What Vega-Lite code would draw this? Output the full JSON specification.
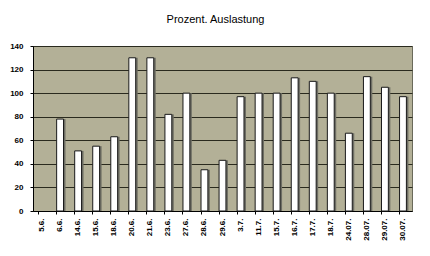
{
  "$schema": "https://vega.github.io/schema/vega-lite/v6.json",
  "width": 379,
  "height": 165,
  "autosize": {"type": "none"},
  "padding": {"left": 33, "top": 46, "right": 18, "bottom": 45},
  "background": "white",
  "title": {
    "text": "Prozent. Auslastung",
    "font": "Liberation Sans",
    "fontSize": 11,
    "fontWeight": "normal",
    "color": "#000000",
    "offset": 17,
    "dx": -7,
    "anchor": "middle"
  },
  "data": {
    "values": [
      {"d": "5.6.", "v": 0},
      {"d": "6.6.", "v": 78},
      {"d": "14.6.", "v": 51},
      {"d": "15.6.", "v": 55},
      {"d": "18.6.", "v": 63},
      {"d": "20.6.", "v": 130},
      {"d": "21.6.", "v": 130},
      {"d": "23.6.", "v": 82},
      {"d": "27.6.", "v": 100},
      {"d": "28.6.", "v": 35},
      {"d": "29.6.", "v": 43},
      {"d": "3.7.", "v": 97},
      {"d": "11.7.", "v": 100},
      {"d": "15.7.", "v": 100},
      {"d": "16.7.", "v": 113},
      {"d": "17.7.", "v": 110},
      {"d": "18.7.", "v": 100},
      {"d": "24.07.", "v": 66},
      {"d": "28.07.", "v": 114},
      {"d": "29.07.", "v": 105},
      {"d": "30.07.", "v": 97}
    ]
  },
  "encoding": {
    "x": {
      "field": "d",
      "type": "nominal",
      "sort": null,
      "scale": {"paddingInner": 0.62, "paddingOuter": 0.31},
      "axis": {
        "title": null,
        "labelAngle": -90,
        "labelFont": "Liberation Sans",
        "labelFontSize": 8,
        "labelFontWeight": "bold",
        "labelColor": "#000000",
        "labelPadding": 4,
        "domainColor": "#000000",
        "tickColor": "#000000",
        "tickSize": 3,
        "bandPosition": 0,
        "grid": false
      }
    },
    "y": {
      "field": "v",
      "type": "quantitative",
      "scale": {"domain": [0, 140], "nice": false},
      "axis": {
        "title": null,
        "values": [0, 20, 40, 60, 80, 100, 120, 140],
        "labelFont": "Liberation Sans",
        "labelFontSize": 8,
        "labelFontWeight": "bold",
        "labelColor": "#000000",
        "labelPadding": 7,
        "domainColor": "#000000",
        "tickColor": "#000000",
        "tickSize": 3,
        "grid": true,
        "gridColor": "#2a2a1e",
        "gridWidth": 1,
        "gridOpacity": 1
      }
    }
  },
  "layer": [
    {
      "mark": {"type": "bar", "color": "#6e6e64", "xOffset": 2}
    },
    {
      "mark": {"type": "bar", "fill": "#ffffff", "stroke": "#1a1a1a", "strokeWidth": 1},
      "encoding": {
        "strokeOpacity": {"condition": {"test": "datum.v == 0", "value": 0}, "value": 1}
      }
    }
  ],
  "config": {
    "view": {"fill": "#b3b097", "stroke": "#6a6a5a", "strokeWidth": 1}
  }
}
